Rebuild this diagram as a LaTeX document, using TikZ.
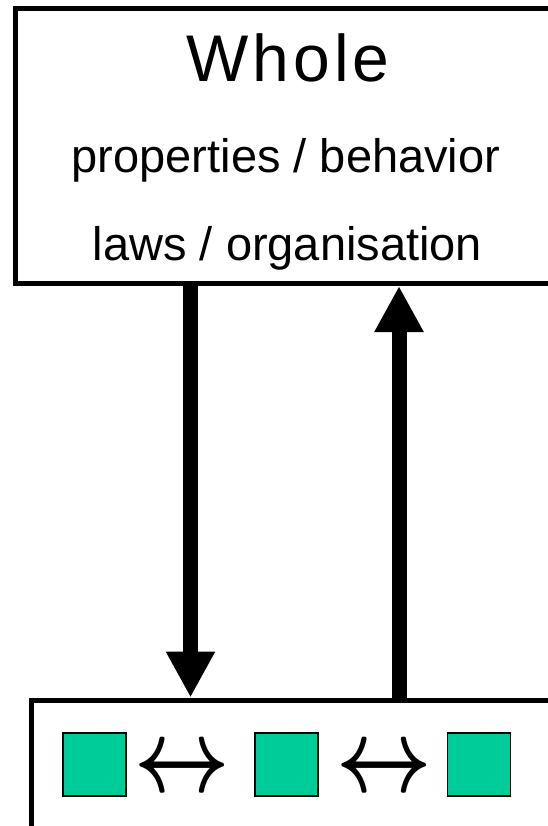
\documentclass[tikz,border=0pt]{standalone}
\usepackage{fontspec}
\setmainfont{Liberation Sans}
\newfontfamily\wholefont[LetterSpace=6]{Liberation Sans}
\usetikzlibrary{arrows.meta}
\definecolor{partgreen}{RGB}{0,204,153}

\begin{document}
\begin{tikzpicture}[x=1pt,y=-1pt,
  boxframe/.style={draw,line width=5pt,inner sep=0pt,outer sep=0pt,anchor=north west},
  partbox/.style={draw,line width=1.5pt,fill=partgreen,minimum width=63pt,minimum height=63pt,inner sep=0pt},
  twoway/.style={inner sep=0pt},
  txt/.style={font=\fontsize{47}{47}\selectfont,inner sep=0pt,anchor=base},
  flow/.style={line width=15pt,-{Triangle[width=46pt,length=46pt]},shorten >=2.5pt}]
  \useasboundingbox (0,0) rectangle (547,826);
  % the whole
  \node (whole) [boxframe,minimum width=560pt,minimum height=274.5pt] at (15,9) {};
  \node (title) [txt,font=\wholefont\fontsize{66}{66}\selectfont] at (288,82) {Whole};
  \node (props) [txt] at (286,173) {properties / behavior};
  \node (laws)  [txt] at (287.5,260) {laws / organisation};
  % the parts
  \node (parts) [boxframe,minimum width=560pt,minimum height=128pt] at (31,700) {};
  \node (p1) [partbox] at (94.5,764.5) {};
  \node (p2) [partbox] at (286.5,764.5) {};
  \node (p3) [partbox] at (479,764.5) {};
  \node (l1) [twoway] at (182.5,771) {\scalebox{8.3}[10.5]{\boldmath$\leftrightarrow$}};
  \node (l2) [twoway] at (384,771) {\scalebox{8.3}[10.5]{\boldmath$\leftrightarrow$}};
  % downward and upward causation
  \coordinate (down) at (190.5,0);
  \coordinate (up) at (399,0);
  \draw[flow] (down |- whole.south) -- (down |- parts.north);
  \draw[flow] (up |- parts.north) -- (up |- whole.south);
\end{tikzpicture}
\end{document}
